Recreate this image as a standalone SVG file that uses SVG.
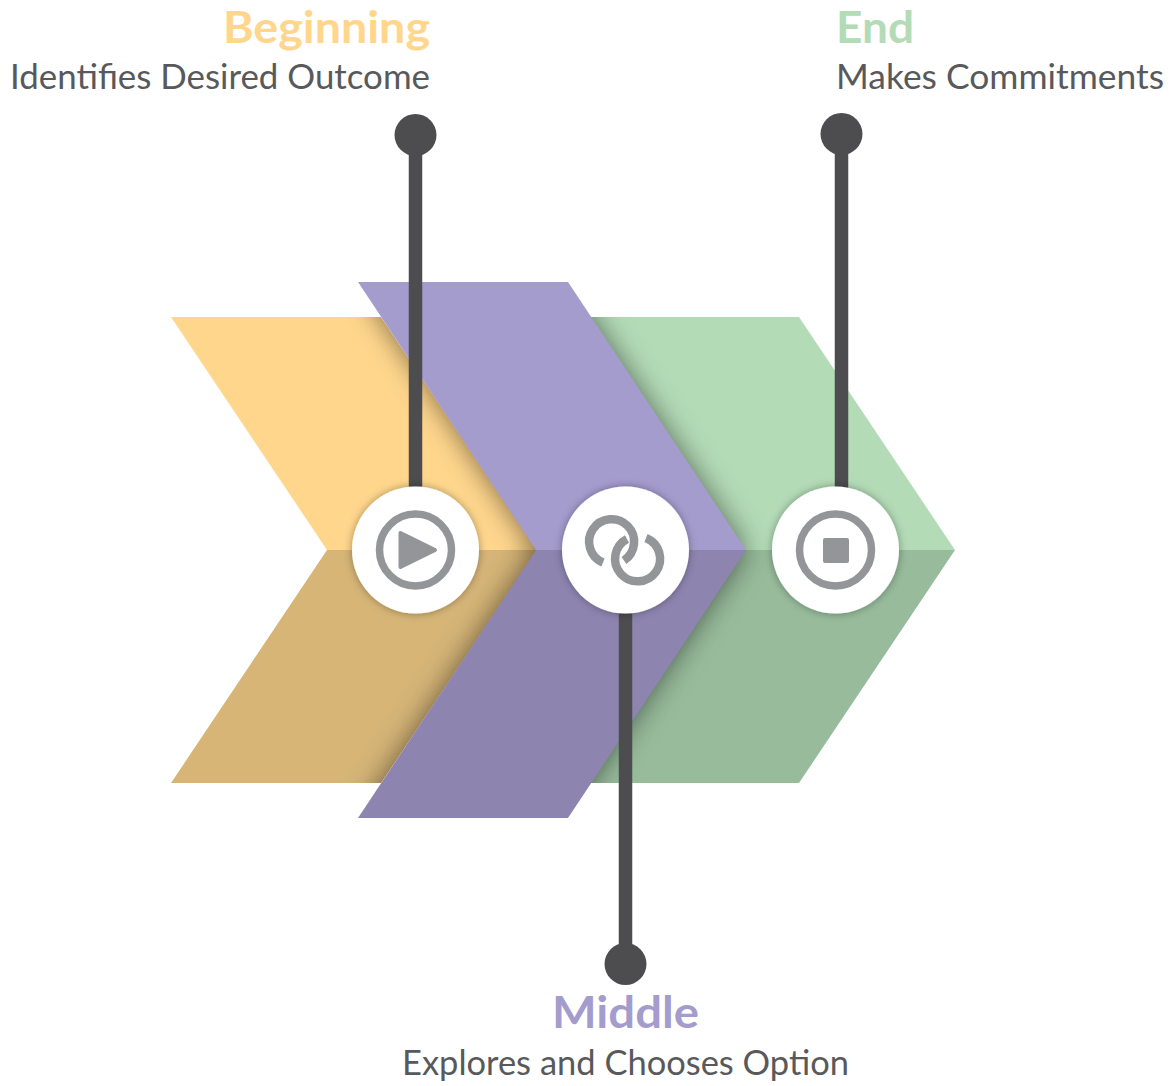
<svg xmlns="http://www.w3.org/2000/svg" width="1176" height="1086" viewBox="0 0 1176 1086">
<style>
.t{font-family:Lato,"Liberation Sans",sans-serif}
.h{font-size:43.5px;font-weight:700}
.s{font-size:34.5px;fill:#58595b}
.ln{stroke:#4d4d4f;stroke-width:13.5;fill:none}
.dot{fill:#4d4d4f}
.disc{fill:#fff;filter:url(#ds)}
.ring{fill:none;stroke:#939598;stroke-width:7.5}
.link{fill:none;stroke:#939598;stroke-width:8.5}
.ic{fill:#939598;stroke:#939598;stroke-linejoin:round;stroke-width:4}
</style>
<defs>
<filter id="bl" x="-20%" y="-20%" width="140%" height="140%"><feGaussianBlur stdDeviation="14"/></filter>
<filter id="ds" x="-20%" y="-20%" width="140%" height="140%"><feDropShadow dx="0" dy="0" stdDeviation="4" flood-color="#000" flood-opacity=".35"/></filter>
<clipPath id="under"><polygon points="171,317 381,317 537,550 381,783 171,783 327,550"/><polygon points="589,317 799,317 955,550 799,783 589,783 745,550"/></clipPath>
</defs>
<rect width="1176" height="1086" fill="#fff"/>
<g id="beginning-chevron">
<polygon points="171,317 381,317 537,550 327,550" fill="#ffd68c"/>
<polygon points="171,783 381,783 537,550 327,550" fill="#d6b577"/>
</g>
<g id="end-chevron">
<polygon points="589,317 799,317 955,550 745,550" fill="#b3dbb6"/>
<polygon points="589,783 799,783 955,550 745,550" fill="#97bb9b"/>
</g>
<g clip-path="url(#under)"><polygon points="358,282 568,282 746,550 568,818 358,818 536,550" fill="#000" fill-opacity=".5" filter="url(#bl)"/></g>
<g id="middle-chevron">
<polygon points="358,282 568,282 746,550 536,550" fill="#a59cce"/>
<polygon points="358,818 568,818 746,550 536,550" fill="#8d85b0"/>
</g>
<g id="connectors">
<line class="ln" x1="415.5" y1="135" x2="415.5" y2="500"/>
<line class="ln" x1="625.5" y1="600" x2="625.5" y2="964"/>
<line class="ln" x1="841.5" y1="134" x2="841.5" y2="500"/>
<circle class="dot" cx="415.5" cy="135" r="21"/>
<circle class="dot" cx="625.5" cy="964" r="21"/>
<circle class="dot" cx="841.5" cy="134" r="21"/>
</g>
<g id="beginning">
<circle class="disc" cx="415.5" cy="550" r="63.5"/>
<circle class="ring" cx="415.5" cy="550" r="36"/>
<polygon class="ic" points="400.5,533 400.5,567 435,550"/>
<text class="t h" x="223" y="43" textLength="207" lengthAdjust="spacingAndGlyphs" fill="#ffd68c">Beginning</text>
<text class="t s" x="10" y="89" textLength="420" lengthAdjust="spacingAndGlyphs">Identifies Desired Outcome</text>
</g>
<g id="middle">
<circle class="disc" cx="625.5" cy="550" r="63.5"/>
<path class="link" d="M603 562.5A22.5 22.5 0 1 1 624 560.5"/>
<path class="link" d="M646 538A22.5 22.5 0 1 1 627 539"/>
<text class="t h" x="552" y="1028" textLength="147" lengthAdjust="spacingAndGlyphs" fill="#a59cce">Middle</text>
<text class="t s" x="402" y="1075" textLength="447" lengthAdjust="spacingAndGlyphs">Explores and Chooses Option</text>
</g>
<g id="end">
<circle class="disc" cx="835.5" cy="550" r="63.5"/>
<circle class="ring" cx="835.5" cy="550" r="36"/>
<rect class="ic" x="825" y="540" width="22" height="21"/>
<text class="t h" x="836" y="43" textLength="78" lengthAdjust="spacingAndGlyphs" fill="#b3dbb6">End</text>
<text class="t s" x="836" y="89" textLength="328" lengthAdjust="spacingAndGlyphs">Makes Commitments</text>
</g>
</svg>
